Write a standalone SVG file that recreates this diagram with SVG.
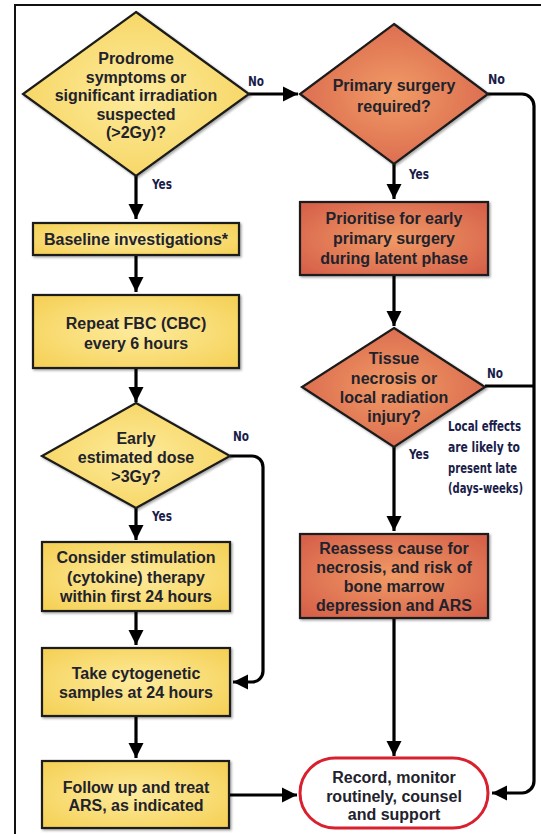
<svg xmlns="http://www.w3.org/2000/svg" width="541" height="834" viewBox="0 0 541 834">
  <defs>
    <radialGradient id="gYellow" cx="50%" cy="50%" r="65%">
      <stop offset="0" stop-color="#fdeb9c"/>
      <stop offset="1" stop-color="#f5d158"/>
    </radialGradient>
    <radialGradient id="gOrange" cx="50%" cy="50%" r="65%">
      <stop offset="0" stop-color="#f19b66"/>
      <stop offset="1" stop-color="#d6614a"/>
    </radialGradient>
    <filter id="shadow" x="-10%" y="-10%" width="125%" height="125%">
      <feDropShadow dx="1.5" dy="1.5" stdDeviation="0.8" flood-color="#000" flood-opacity="0.35"/>
    </filter>
    <marker id="arrow" markerUnits="userSpaceOnUse" markerWidth="16" markerHeight="16" refX="15" refY="8" orient="auto">
      <path d="M0,0.5 L15,8 L0,15.5 z" fill="#000"/>
    </marker>
  </defs>
  <style>
    .frame { fill: none; stroke: #111; stroke-width: 2; }
    .yellow { fill: url(#gYellow); stroke: #1a1a1a; stroke-width: 2.2; filter: url(#shadow); }
    .orange { fill: url(#gOrange); stroke: #1a1a1a; stroke-width: 2.2; filter: url(#shadow); }
    .terminal { fill: #fff; stroke: #d8202e; stroke-width: 3; }
    .txt { font-family: "Liberation Sans", Arial, sans-serif; font-weight: bold; font-size: 16px; fill: #22222c; text-anchor: middle; }
    .lbl { font-family: "DejaVu Sans Condensed", "Liberation Sans", sans-serif; font-weight: bold; font-size: 14.5px; fill: #1a1d4a; }
    .note { font-family: "DejaVu Sans Condensed", "Liberation Sans", sans-serif; font-weight: bold; font-size: 14px; fill: #1a1d4a; }
    .conn { fill: none; stroke: #000; stroke-width: 3.2; }
    .arr { marker-end: url(#arrow); }
  </style>

  <!-- outer frame -->
  <path class="frame" d="M15,834 V5 H541"/>

  <!-- connectors -->
  <g id="connectors">
    <path class="conn arr" d="M136,176 V219"/>
    <path class="conn arr" d="M249,94 H298"/>
    <path class="conn arr" d="M488,94 H522 A12,12 0 0 1 534,106 V781 A12,12 0 0 1 522,793 H492"/>
    <path class="conn arr" d="M394,164 V199"/>
    <path class="conn arr" d="M394,275 V326"/>
    <path class="conn" d="M485,386 H534"/>
    <path class="conn arr" d="M394,447 V531"/>
    <path class="conn arr" d="M394,618 V756"/>
    <path class="conn arr" d="M136,255 V292"/>
    <path class="conn arr" d="M136,368 V402"/>
    <path class="conn arr" d="M136,508 V540"/>
    <path class="conn arr" d="M230,456 H252 A11,11 0 0 1 263,467 V671 A11,11 0 0 1 252,682 H233"/>
    <path class="conn arr" d="M136,611 V645"/>
    <path class="conn arr" d="M136,716 V758"/>
    <path class="conn arr" d="M229,795 H297"/>
  </g>

  <!-- branch labels -->
  <g id="labels">
    <text class="lbl" x="248" y="86" textLength="16" lengthAdjust="spacingAndGlyphs">No</text>
    <text class="lbl" x="152" y="189" textLength="20" lengthAdjust="spacingAndGlyphs">Yes</text>
    <text class="lbl" x="488" y="84" textLength="17" lengthAdjust="spacingAndGlyphs">No</text>
    <text class="lbl" x="409" y="179" textLength="20" lengthAdjust="spacingAndGlyphs">Yes</text>
    <text class="lbl" x="487" y="378" textLength="16" lengthAdjust="spacingAndGlyphs">No</text>
    <text class="lbl" x="409" y="459" textLength="20" lengthAdjust="spacingAndGlyphs">Yes</text>
    <text class="lbl" x="233" y="441" textLength="16" lengthAdjust="spacingAndGlyphs">No</text>
    <text class="lbl" x="152" y="521" textLength="20" lengthAdjust="spacingAndGlyphs">Yes</text>
  </g>

  <g id="note-local-effects">
    <text class="note" x="448" y="431" textLength="73" lengthAdjust="spacingAndGlyphs">Local effects</text>
    <text class="note" x="448" y="452" textLength="72" lengthAdjust="spacingAndGlyphs">are likely to</text>
    <text class="note" x="448" y="473" textLength="69" lengthAdjust="spacingAndGlyphs">present late</text>
    <text class="note" x="448" y="493" textLength="75" lengthAdjust="spacingAndGlyphs">(days-weeks)</text>
  </g>

  <!-- left column -->
  <g id="prodrome">
    <polygon class="yellow" points="136,12 249,94 136,176 23,94"/>
    <text class="txt" x="136" y="64">Prodrome</text>
    <text class="txt" x="136" y="83">symptoms or</text>
    <text class="txt" x="136" y="101">significant irradiation</text>
    <text class="txt" x="136" y="120">suspected</text>
    <text class="txt" x="136" y="138">(&gt;2Gy)?</text>
  </g>

  <g id="baseline">
    <rect class="yellow" x="33" y="223" width="206" height="32"/>
    <text class="txt" x="136" y="244.5">Baseline investigations*</text>
  </g>

  <g id="repeat-fbc">
    <rect class="yellow" x="33" y="295" width="206" height="73"/>
    <text class="txt" x="136" y="329">Repeat FBC (CBC)</text>
    <text class="txt" x="136" y="349">every 6 hours</text>
  </g>

  <g id="dose">
    <polygon class="yellow" points="136,403 230,456 136,508 42,456"/>
    <text class="txt" x="136" y="444">Early</text>
    <text class="txt" x="136" y="463">estimated dose</text>
    <text class="txt" x="136" y="482">&gt;3Gy?</text>
  </g>

  <g id="stimulation">
    <rect class="yellow" x="42" y="542" width="188" height="69"/>
    <text class="txt" x="136" y="563">Consider stimulation</text>
    <text class="txt" x="136" y="583">(cytokine) therapy</text>
    <text class="txt" x="136" y="602">within first 24 hours</text>
  </g>

  <g id="cytogenetic">
    <rect class="yellow" x="42" y="648" width="188" height="68"/>
    <text class="txt" x="136" y="679">Take cytogenetic</text>
    <text class="txt" x="136" y="698">samples at 24 hours</text>
  </g>

  <g id="follow-up">
    <rect class="yellow" x="42" y="761" width="187" height="67"/>
    <text class="txt" x="136" y="793">Follow up and treat</text>
    <text class="txt" x="136" y="811">ARS, as indicated</text>
  </g>

  <!-- right column -->
  <g id="surgery">
    <polygon class="orange" points="394,24 488,94 394,164 300,94"/>
    <text class="txt" x="394" y="91">Primary surgery</text>
    <text class="txt" x="394" y="112">required?</text>
  </g>

  <g id="prioritise">
    <rect class="orange" x="300" y="202" width="188" height="73"/>
    <text class="txt" x="394" y="224">Prioritise for early</text>
    <text class="txt" x="394" y="244">primary surgery</text>
    <text class="txt" x="394" y="264">during latent phase</text>
  </g>

  <g id="necrosis">
    <polygon class="orange" points="394,328 485,387 394,447 302,387"/>
    <text class="txt" x="394" y="364">Tissue</text>
    <text class="txt" x="394" y="384">necrosis or</text>
    <text class="txt" x="394" y="403">local radiation</text>
    <text class="txt" x="394" y="422">injury?</text>
  </g>

  <g id="reassess">
    <rect class="orange" x="300" y="534" width="188" height="84"/>
    <text class="txt" x="394" y="554">Reassess cause for</text>
    <text class="txt" x="394" y="573">necrosis, and risk of</text>
    <text class="txt" x="394" y="592">bone marrow</text>
    <text class="txt" x="394" y="611">depression and ARS</text>
  </g>

  <g id="record">
    <rect class="terminal" x="300" y="758" width="188" height="70" rx="35" ry="35"/>
    <text class="txt" x="394" y="783">Record, monitor</text>
    <text class="txt" x="394" y="802">routinely, counsel</text>
    <text class="txt" x="394" y="820">and support</text>
  </g>
</svg>
